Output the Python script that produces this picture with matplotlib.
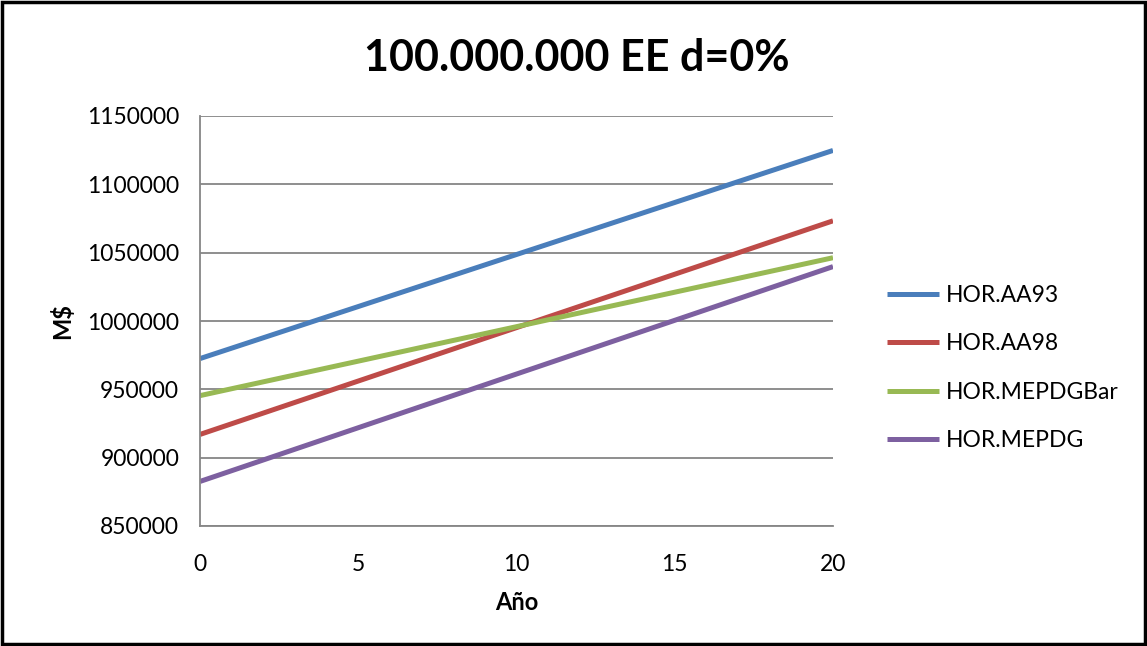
import matplotlib.pyplot as plt
from matplotlib.patches import Rectangle

# Datos
anios = [0, 20]
series = ['HOR.AA93', 'HOR.AA98', 'HOR.MEPDGBar', 'HOR.MEPDG']
aa93 = [972500, 1124800]
aa98 = [917000, 1073300]
mepdgbar = [945400, 1046300]
mepdg = [882600, 1039800]
yticks = [850000, 900000, 950000, 1000000, 1050000, 1100000, 1150000]
xticks = [0, 5, 10, 15, 20]

colores = ['#4A7EBB', '#BE4B48', '#98B954', '#7D60A0']

plt.rcParams['font.family'] = ['Lato', 'DejaVu Sans']

W, H = 1147, 646
fig = plt.figure(figsize=(W/100, H/100), dpi=100)
ax = fig.add_axes([200/W, 1 - 526/H, (833-200)/W, (526-116)/H])

for vals, nombre, c in zip([aa93, aa98, mepdgbar, mepdg], series, colores):
    ax.plot(anios, vals, color=c, linewidth=3.6, label=nombre, solid_capstyle='butt')

ax.set_xlim(0, 20)
ax.set_ylim(850000, 1150000)
ax.set_xticks(xticks)
ax.set_yticks(yticks)
ax.set_yticklabels([str(v) for v in yticks])
ax.tick_params(axis='both', labelsize=16.5, length=0, colors='black')
ax.tick_params(axis='y', pad=15)
ax.tick_params(axis='x', pad=20)
ax.yaxis.grid(True, color='#868686', linewidth=1.3)
ax.set_axisbelow(True)
for s in ['top', 'right']:
    ax.spines[s].set_visible(False)
for s in ['left', 'bottom']:
    ax.spines[s].set_color('#868686')
    ax.spines[s].set_linewidth(1.3)

ax.set_xlabel('Año', fontsize=17, fontweight='bold', labelpad=12)
ax.set_ylabel('M$', fontsize=17, fontweight='bold', labelpad=9)

fig.text(577/W, 1 - 58/H, '100.000.000 EE d=0%', ha='center', va='center',
         fontsize=31, fontweight='bold')

leg = ax.legend(loc='center left', bbox_to_anchor=(866/W, 1 - 368/H),
                bbox_transform=fig.transFigure, frameon=False, fontsize=16.5,
                handlelength=2.3, handletextpad=0.3, labelspacing=1.2)

# Borde exterior
fig.patches.append(Rectangle((2/W, 2/H), 1 - 4/W, 1 - 4/H, transform=fig.transFigure,
                             fill=False, edgecolor='black', linewidth=2.5))

plt.savefig('out.png', dpi=100)
